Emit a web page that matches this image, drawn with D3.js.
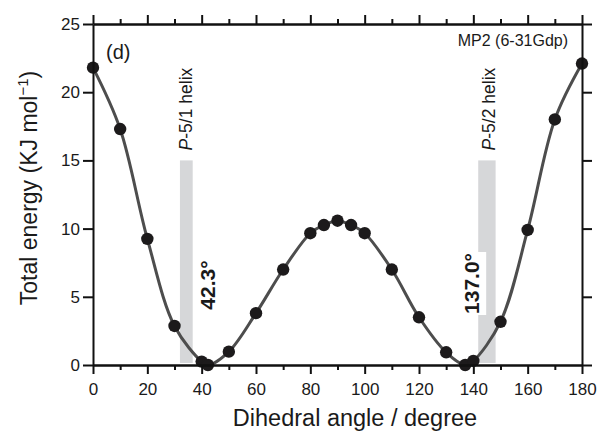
<!DOCTYPE html>
<html>
<head>
<meta charset="utf-8">
<script src="https://cdn.jsdelivr.net/npm/d3@7"></script>
<style>
  html, body { margin: 0; padding: 0; background: #fff; }
  svg { display: block; }
  text { font-family: "Liberation Sans", Arial, Helvetica, sans-serif; fill: #1a1a1a; }
</style>
</head>
<body>
<svg id="chart" width="599" height="432"></svg>
<script>
// Dihedral scan: MP2 (6-31Gdp) total energy vs. dihedral angle
const angles   = [0, 10, 20, 30, 40, 42.3, 50, 60, 70, 80, 85, 90, 95, 100, 110, 120, 130, 137, 140, 150, 160, 170, 180];
const energies = [21.8, 17.3, 9.25, 2.86, 0.25, 0.0, 0.98, 3.8, 7.0, 9.66, 10.26, 10.58, 10.26, 9.66, 7.0, 3.5, 0.93, 0.0, 0.3, 3.17, 9.9, 18.0, 22.1];

// Helix regions (shaded bands): angle ranges and band height
const helixNames  = ["P-5/1 helix", "P-5/2 helix"];
const helixStart  = [32.0, 141.8];
const helixEnd    = [36.7, 148.2];
const helixTop    = [15, 15];

// Minimum annotations
const minAngles = [42.3, 137.0];
const minLabels = ["42.3°", "137.0°"];

const xMajorTicks = [0, 20, 40, 60, 80, 100, 120, 140, 160, 180];
const xMinorTicks = [10, 30, 50, 70, 90, 110, 130, 150, 170];
const yTicks      = [0, 5, 10, 15, 20, 25];

const svg = d3.select("#chart");
const x = d3.scaleLinear().domain([0, 180]).range([93, 582]);
const y = d3.scaleLinear().domain([0, 25]).range([365, 24]);

// shaded helix bands
const bands = svg.append("g");
helixNames.forEach((name, i) => {
  bands.append("rect")
    .attr("x", x(helixStart[i]))
    .attr("width", x(helixEnd[i]) - x(helixStart[i]))
    .attr("y", y(helixTop[i]))
    .attr("height", y(0.15) - y(helixTop[i]))
    .attr("fill", "#d6d7d9");
  const t = bands.append("text")
    .attr("transform", `translate(${x(helixEnd[i]) - 0.5},${y(helixTop[i]) - 10}) rotate(-90)`)
    .attr("text-anchor", "start")
    .style("font-size", "17.5px");
  t.append("tspan").style("font-style", "italic").text(name.split("-")[0]);
  t.append("tspan").text("-" + name.split("-").slice(1).join("-"));
});

// energy curve
const pts = angles.map((a, i) => [a, energies[i]]);
const line = d3.line().x(d => x(d[0])).y(d => y(d[1])).curve(d3.curveCatmullRom.alpha(0.5));
svg.append("path")
  .attr("d", line(pts))
  .attr("fill", "none")
  .attr("stroke", "#4d4d4d")
  .attr("stroke-width", 3);

// minimum labels (bold, rotated); the second one sits on a white box over the band
const minDx = [7, 14];
const minCy = [285, 283.5];
minLabels.forEach((lab, i) => {
  const g = svg.append("g")
    .attr("transform", `translate(${x(minAngles[i]) + minDx[i]},${minCy[i]}) rotate(-90)`);
  const t = g.append("text")
    .attr("text-anchor", "middle")
    .style("font-size", "21px")
    .style("font-weight", "bold")
    .text(lab);
  if (i === 1) {
    const bb = t.node().getBBox();
    g.insert("rect", "text")
      .attr("x", bb.x - 1)
      .attr("y", bb.y)
      .attr("width", bb.width + 2)
      .attr("height", bb.height + 3)
      .attr("fill", "#fff");
  }
});

// data points
svg.append("g").selectAll("circle").data(pts).join("circle")
  .attr("cx", d => x(d[0]))
  .attr("cy", d => y(d[1]))
  .attr("r", 6.2)
  .attr("fill", "#1c1a1b");

// axes
function styleAxis(g) {
  g.select(".domain").attr("stroke", "#111").attr("stroke-width", 2);
  g.selectAll(".tick line").attr("stroke", "#111").attr("stroke-width", 2);
  g.selectAll(".tick text").style("font-size", "17px").attr("fill", "#1a1a1a")
    .style("font-family", "'Liberation Sans', Arial, sans-serif");
}
svg.append("g").attr("transform", "translate(0,365)")
  .call(d3.axisBottom(x).tickValues(xMajorTicks).tickSize(9).tickSizeOuter(0).tickPadding(9).tickFormat(d3.format("d")))
  .call(styleAxis);
svg.append("g").attr("transform", "translate(0,365)")
  .call(d3.axisBottom(x).tickValues(xMinorTicks).tickSize(5).tickSizeOuter(0).tickFormat(""))
  .call(styleAxis);
svg.append("g").attr("transform", "translate(0,24)")
  .call(d3.axisTop(x).tickValues(xMajorTicks).tickSize(9).tickSizeOuter(0).tickFormat(""))
  .call(styleAxis);
svg.append("g").attr("transform", "translate(0,24)")
  .call(d3.axisTop(x).tickValues(xMinorTicks).tickSize(5).tickSizeOuter(0).tickFormat(""))
  .call(styleAxis);
svg.append("g").attr("transform", "translate(93,0)")
  .call(d3.axisLeft(y).tickValues(yTicks).tickSize(10).tickSizeOuter(0).tickPadding(3).tickFormat(d3.format("d")))
  .call(styleAxis);
svg.append("g").attr("transform", "translate(582,0)")
  .call(d3.axisRight(y).tickValues(yTicks).tickSize(10).tickSizeOuter(0).tickFormat(""))
  .call(styleAxis);

// axis titles
svg.append("text")
  .attr("x", 355).attr("y", 426)
  .attr("text-anchor", "middle")
  .style("font-size", "23.5px")
  .text("Dihedral angle / degree");

const yl = svg.append("text")
  .attr("transform", "translate(37,188) rotate(-90)")
  .attr("text-anchor", "middle")
  .style("font-size", "23px");
yl.append("tspan").text("Total energy (KJ mol");
yl.append("tspan").attr("dy", -9).style("font-size", "15px").text("−1");
yl.append("tspan").attr("dy", 9).text(")");

// panel tag and method
svg.append("text").attr("x", 106).attr("y", 59).style("font-size", "20px").text("(d)");
svg.append("text").attr("x", 568).attr("y", 46).attr("text-anchor", "end")
  .style("font-size", "16px").text("MP2 (6-31Gdp)");
</script>
</body>
</html>
